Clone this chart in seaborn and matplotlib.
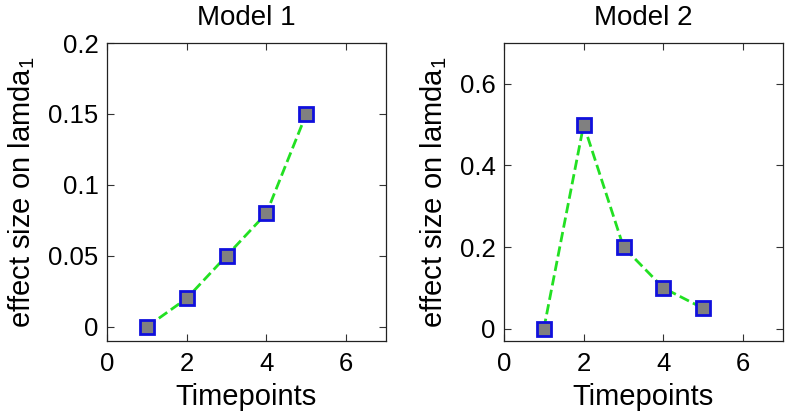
import matplotlib
matplotlib.use("Agg")
import matplotlib.pyplot as plt
import seaborn as sns
import pandas as pd

timepoints = [1, 2, 3, 4, 5]
model1_effect = [0.0, 0.02, 0.05, 0.08, 0.15]
model2_effect = [0.0, 0.5, 0.2, 0.1, 0.05]
titles = ["Model 1", "Model 2"]
ylims = [(-0.01, 0.2), (-0.03, 0.7)]
yticks = [[0, 0.05, 0.1, 0.15, 0.2], [0, 0.2, 0.4, 0.6]]
yticklabels = [["0", "0.05", "0.1", "0.15", "0.2"], ["0", "0.2", "0.4", "0.6"]]
xticks = [0, 2, 4, 6]

sns.set_style("ticks")
plt.rcParams['font.family'] = ['Liberation Sans', 'DejaVu Sans']
plt.rcParams['mathtext.fontset'] = 'custom'
plt.rcParams['mathtext.rm'] = 'Liberation Sans'
plt.rcParams['mathtext.it'] = 'Liberation Sans'
plt.rcParams['text.color'] = 'black'
plt.rcParams['axes.labelcolor'] = 'black'

fig = plt.figure(figsize=(7.85, 4.12), dpi=100)
axes = [fig.add_axes([0.1363, 0.1723, 0.3554, 0.7233]),
        fig.add_axes([0.642, 0.1723, 0.3554, 0.7233])]

for i, (ax, vals) in enumerate(zip(axes, [model1_effect, model2_effect])):
    df = pd.DataFrame({"Timepoints": timepoints, "effect": vals})
    sns.lineplot(data=df, x="Timepoints", y="effect", ax=ax,
                 color="#22e022", linestyle="--", linewidth=2,
                 marker="s", markersize=10, markerfacecolor="#808080",
                 markeredgecolor="#1010dd", markeredgewidth=2)
    ax.set_xlim(0, 7)
    ax.set_ylim(*ylims[i])
    ax.set_xticks(xticks)
    ax.set_xticklabels([str(t) for t in xticks])
    ax.set_yticks(yticks[i])
    ax.set_yticklabels(yticklabels[i])
    ax.tick_params(direction="in", top=True, right=True, labelsize=18.5,
                   length=5, width=0.8, colors="#333333", labelcolor="black")
    ax.tick_params(axis="x", pad=8)
    ax.tick_params(axis="y", pad=6)
    for s in ax.spines.values():
        s.set_visible(True)
        s.set_linewidth(0.9)
        s.set_color("#222222")
    ax.set_title(titles[i], fontsize=20, pad=13, color="black")
    ax.set_xlabel("Timepoints", fontsize=21, labelpad=5)
    ax.set_ylabel("effect size on lamda$_1$", fontsize=21, labelpad=8)

plt.savefig("out.png", dpi=100)
